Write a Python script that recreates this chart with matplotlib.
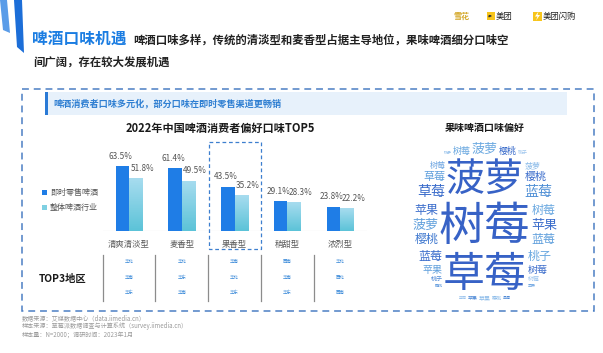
import numpy as np
import matplotlib
matplotlib.use('Agg')
import matplotlib.pyplot as plt
from matplotlib.patches import Rectangle, Polygon
from matplotlib.colors import LinearSegmentedColormap

plt.rcParams['font.family'] = ['Noto Sans CJK SC', 'DejaVu Sans']

# ---------------- data ----------------
categories = ['清爽清淡型', '麦香型', '果香型', '稍甜型', '浓烈型']
instant_retail = [63.5, 61.4, 43.5, 29.1, 23.8]
whole_industry = [51.8, 49.5, 35.2, 28.3, 22.2]
series_names = ['即时零售啤酒', '整体啤酒行业']
highlight_index = 2
top3_row1 = ['华北', '华北', '华南', '西南', '华北']
top3_row2 = ['华南', '华东', '华北', '华南', '西北']
top3_row3 = ['华东', '华南', '华东', '华东', '西南']

cloud_words = ['树莓', '草莓', '菠萝', '苹果', '桃子', '樱桃', '草莓', '蓝莓', '树莓', '菠萝',
               '苹果', '菠萝', '草莓', '樱桃', '苹果', '树莓', '樱桃', '蓝莓', '蓝莓', '桃子',
               '桃子', '草莓', '樱桃', '菠萝', '蓝莓', '苹果', '树莓', '桃子', '蓝莓', '草莓',
               '樱桃', '树莓', '苹果', '桃子', '菠萝', '草莓', '蓝莓', '樱桃', '苹果', '桃子',
               '树莓', '菠萝', '草莓', '蓝莓', '樱桃', '苹果', '桃子', '树莓', '菠萝', '草莓',
               '蓝莓', '樱桃', '苹果', '桃子', '树莓', '菠萝', '草莓', '蓝莓', '樱桃', '苹果',
               '桃子', '树莓', '菠萝', '草莓', '蓝莓', '樱桃', '苹果', '桃子', '树莓', '菠萝',
               '草莓', '蓝莓', '樱桃', '苹果', '桃子', '树莓', '菠萝', '草莓', '蓝莓', '樱桃',
               '苹果', '桃子', '树莓', '菠萝', '草莓', '蓝莓', '樱桃', '苹果', '桃子', '树莓',
               '菠萝', '草莓', '蓝莓', '樱桃', '苹果', '桃子', '树莓', '菠萝', '草莓', '蓝莓',
               '樱桃', '苹果', '桃子', '树莓', '菠萝', '草莓', '蓝莓', '樱桃', '苹果', '桃子',
               '树莓', '菠萝', '草莓', '蓝莓', '樱桃', '苹果', '桃子', '树莓', '菠萝', '草莓',
               '蓝莓', '樱桃', '苹果', '桃子', '树莓', '菠萝', '草莓', '蓝莓', '樱桃', '苹果',
               '桃子', '树莓', '菠萝', '草莓', '蓝莓', '樱桃', '苹果', '桃子', '树莓', '菠萝',
               '草莓', '蓝莓']
cloud_sizes = [46, 42, 39, 19, 16, 15, 14, 14, 14, 13,
               13, 13, 13, 13, 12, 12, 12, 12, 12, 12,
               12, 11, 11, 11, 11, 10, 10, 10, 10, 10,
               9, 9, 9, 9, 9, 9, 9, 9, 9, 9,
               8, 8, 8, 8, 8, 8, 8, 8, 8, 8,
               8, 8, 7, 7, 7, 7, 7, 7, 7, 7,
               7, 7, 7, 7, 7, 7, 6, 6, 6, 6,
               6, 6, 6, 6, 6, 6, 6, 6, 6, 6,
               6, 6, 6, 6, 6, 6, 5, 5, 5, 5,
               5, 5, 5, 5, 5, 5, 5, 5, 5, 5,
               5, 5, 5, 5, 5, 5, 5, 5, 5, 5,
               5, 5, 4, 4, 4, 4, 4, 4, 4, 4,
               4, 4, 4, 4, 4, 4, 4, 4, 4, 4,
               4, 4, 4, 4, 4, 4, 4, 4, 4, 4,
               4, 4]

# ---------------- figure ----------------
W, H = 603, 353
PT = 0.72  # px -> pt
fig = plt.figure(figsize=(W / 100, H / 100), dpi=100)
bg = fig.add_axes([0, 0, 1, 1])
bg.set_xlim(0, W)
bg.set_ylim(H, 0)
bg.axis('off')


def rect(x0, y0, x1, y1):
    return [x0 / W, 1 - y1 / H, (x1 - x0) / W, (y1 - y0) / H]


BLUE = '#1f7de6'
LIGHT = '#7fd0e2'

# decorative stripes
bg.add_patch(Polygon([(0, 0), (7, 0), (10, 33), (3, 30)], closed=True, fc='#5a9ce8', ec='none'))
bg.add_patch(Polygon([(14, 0), (22, 0), (24, 53), (17, 47)], closed=True, fc='#1c6ed8', ec='none'))

# titles
bg.text(32, 39, '啤酒口味机遇', fontsize=11.3, fontweight='bold', color='#1b7de2', va='center', ha='left')
bg.text(133, 40, '啤酒口味多样，传统的清淡型和麦香型占据主导地位，果味啤酒细分口味空',
        fontsize=8.2, fontweight='bold', color='#222222', va='center', ha='left')
bg.text(33, 62, '间广阔，存在较大发展机遇', fontsize=8.2, fontweight='bold', color='#222222',
        va='center', ha='left')

# logos
bg.text(462, 16, '雪花', fontsize=5.8, fontweight='bold', color='#d4a829', va='center', ha='center')
bg.add_patch(Rectangle((486.5, 12), 8, 8, fc='#f7c51c', ec='none'))
bg.text(490.5, 16, '美团', fontsize=1.6, color='#333333', va='center', ha='center')
bg.text(496, 16, '美团', fontsize=6.0, color='#222222', va='center', ha='left')
bg.add_patch(Rectangle((533, 11.5), 8.5, 9, fc='#f7c51c', ec='none'))
bg.add_patch(Polygon([(538.5, 11.5), (535, 16.5), (537.5, 16.5), (536, 20.5), (540, 15), (537.5, 15)],
                     closed=True, fc='#ffffff', ec='none'))
bg.text(543, 16, '美团闪购', fontsize=6.0, color='#222222', va='center', ha='left')

# outer dashed box
bg.add_patch(Rectangle((22, 89), 572, 222, fill=False, ec='#4b7fc4', lw=1.1, ls=(0, (4.5, 3.2))))

# header band
bg.add_patch(Rectangle((45, 92), 522, 23, fc='#e7f1fb', ec='none'))
bg.add_patch(Rectangle((45, 92), 3, 23, fc='#2a7ad6', ec='none'))
bg.text(53, 103.5, '啤酒消费者口味多元化，部分口味在即时零售渠道更畅销', fontsize=6.6,
        fontweight='bold', color='#2f7fd2', va='center', ha='left')

# chart title
bg.text(220, 128, '2022年中国啤酒消费者偏好口味TOP5', fontsize=8, fontweight='bold',
        color='#1a1a1a', va='center', ha='center')

# ---------------- bar chart ----------------
AX_L, AX_R, AX_T, AX_B = 103, 367, 135, 231
PX_PER_PCT = 1.02
XL = (-0.493, 4.51)
ax = fig.add_axes(rect(AX_L, AX_T, AX_R, AX_B))
ax.set_xlim(*XL)
ax.set_ylim(0, (AX_B - AX_T) / PX_PER_PCT)
ax.axis('off')
ax.patch.set_alpha(0)

x = np.arange(len(categories))
bw = 0.256
b1 = ax.bar(x - bw / 2, instant_retail, bw, color=BLUE, zorder=2)
b2 = ax.bar(x + bw / 2, whole_industry, bw, color=LIGHT, zorder=2)

# gradient on light bars
grad = np.linspace(0, 1, 64).reshape(-1, 1)
cm = LinearSegmentedColormap.from_list('g', ['#5cc3d8', '#a7dcef'])
for p in b2:
    bx, by = p.get_x(), p.get_y()
    im = ax.imshow(grad, extent=(bx, bx + p.get_width(), by, by + p.get_height()),
                   cmap=cm, aspect='auto', origin='lower', zorder=3)
    im.set_clip_path(p)
ax.set_xlim(*XL)
ax.set_ylim(0, (AX_B - AX_T) / PX_PER_PCT)

ax.axhline(0, color='#d6d6d6', lw=0.8, zorder=1)
for i in range(len(categories)):
    ax.annotate(f'{instant_retail[i]}%', (x[i] - bw / 2, instant_retail[i]), xytext=(-2 * PT, 10 * PT),
                textcoords='offset points', ha='center', va='center', fontsize=5.9, color='#555555')
    ax.annotate(f'{whole_industry[i]}%', (x[i] + bw / 2, whole_industry[i]), xytext=(6.5 * PT, 10 * PT),
                textcoords='offset points', ha='center', va='center', fontsize=5.9, color='#555555')
    ax.annotate(categories[i], (x[i], 0), xytext=(0, -13 * PT), textcoords='offset points',
                ha='center', va='center', fontsize=6.0, color='#595959', annotation_clip=False)

# pixel x of group centres
spacing = (AX_R - AX_L) / (XL[1] - XL[0])
centers = [AX_L + (i - XL[0]) * spacing for i in range(len(categories))]

# highlight dashed box
hc = centers[highlight_index]
bg.add_patch(Rectangle((hc - 26, 142), 52, 107, fill=False, ec='#3d7fcf', lw=0.9, ls=(0, (3, 2.2))))

# legend
for k, (name, col) in enumerate(zip(series_names, [BLUE, LIGHT])):
    yk = 192.5 + k * 15
    bg.add_patch(Rectangle((42, yk - 2.7), 5.4, 5.4, fc=col, ec='none'))
    bg.text(50, yk, name, fontsize=5.8, color='#555555', va='center', ha='left')

# ---------------- TOP3 table ----------------
bg.text(63, 279, 'TOP3地区', fontsize=7.4, fontweight='bold', color='#1a1a1a', va='center', ha='center')
for i, c in enumerate(centers):
    sx = c - spacing / 2
    bg.plot([sx, sx], [255, 301], color='#8c8c8c', lw=0.9)
    for r, row in enumerate([top3_row1, top3_row2, top3_row3]):
        bg.text(c, 261.5 + r * 15.7, row[i], fontsize=3.2, color='#3b8ad9', va='center', ha='center')

# source
src = ['数据来源：艾媒数据中心（data.iimedia.cn）',
       '样本来源：草莓派数据调查与计算系统（survey.iimedia.cn）',
       '样本量：N=2000；调研时间：2023年1月']
for k, s in enumerate(src):
    bg.text(22, 318 + k * 8.5, s, fontsize=4.4, color='#9a9a9a', va='center', ha='left')

# ---------------- word cloud ----------------
bg.text(485, 128, '果味啤酒口味偏好', fontsize=7.2, fontweight='bold', color='#1a1a1a',
        va='center', ha='center')

cx, cy, rx, ry, pw = 485, 222, 73, 81, 2.6
gx0, gy0, gx1, gy1 = 402, 132, 568, 312
gw, gh = gx1 - gx0, gy1 - gy0
yy, xx = np.mgrid[0:gh, 0:gw]
blocked = (np.abs((xx + gx0 + 0.5 - cx) / rx) ** pw + np.abs((yy + gy0 + 0.5 - cy) / ry) ** pw) > 1


def word_color(s, idx):
    if s >= 30:
        return '#3762c6'
    if s >= 14:
        return ['#3a6ccb', '#4f8fd6', '#3f74cf'][idx % 3]
    if s >= 9:
        return ['#3f78cf', '#5f9fdc', '#3a6ccb', '#6aa8e0'][idx % 4]
    return ['#6fa6e2', '#8bbbe9', '#4f8ad6', '#9fc6ee', '#5e98dc'][idx % 5]


for idx, (wd, s) in enumerate(zip(cloud_words, cloud_sizes)):
    bwid = int(np.ceil(len(wd) * s * 0.98)) + 1
    bht = int(np.ceil(s * 1.06)) + 1
    if bwid >= gw or bht >= gh:
        continue
    S = np.zeros((gh + 1, gw + 1))
    S[1:, 1:] = blocked.cumsum(0).cumsum(1)
    box = (S[bht:, bwid:] - S[:gh + 1 - bht, bwid:] - S[bht:, :gw + 1 - bwid]
           + S[:gh + 1 - bht, :gw + 1 - bwid])
    ys, xs = np.nonzero(box == 0)
    if len(ys) == 0:
        continue
    ccx = xs + bwid / 2 + gx0
    ccy = ys + bht / 2 + gy0
    d = (ccx - cx) ** 2 + ((ccy - cy) / 1.1) ** 2 - 4.0 * (ccy - cy)
    k = int(np.argmin(d))
    blocked[ys[k]:ys[k] + bht, xs[k]:xs[k] + bwid] = True
    bg.text(ccx[k], ccy[k] + 0.06 * s, wd, fontsize=s * PT, color=word_color(s, idx),
            va='center', ha='center')

fig.savefig('out.png', dpi=100)
